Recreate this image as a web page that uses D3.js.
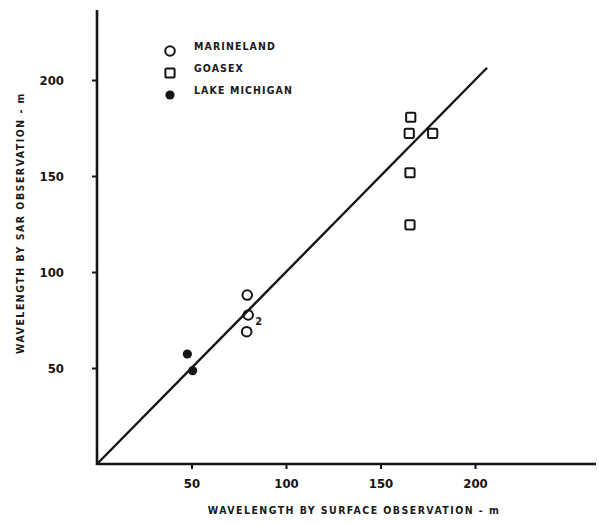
<!DOCTYPE html>
<html>
<head>
<meta charset="utf-8">
<script src="https://cdn.jsdelivr.net/npm/d3@7"></script>
<style>
  html, body { margin: 0; padding: 0; background: #fff; }
  svg { display: block; }
  text { font-family: "DejaVu Sans Condensed", "Liberation Sans Narrow", sans-serif; font-weight: bold; fill: #1a1a1a; }
</style>
</head>
<body>
<svg id="chart" width="599" height="524"></svg>
<script>
// Wave wavelength comparison: surface observation (x) vs SAR observation (y), metres
const xTicks = [50, 100, 150, 200];
const yTicks = [50, 100, 150, 200];

const marinelandX = [79.5, 80, 79.2];
const marinelandY = [88, 77.6, 68.9];
const marinelandCount = ["", "2", ""];

const goasexX = [166, 165.2, 177.6, 165.6, 165.6];
const goasexY = [180.6, 172.2, 172.2, 151.7, 124.5];

const michiganX = [47.8, 50.6];
const michiganY = [57.3, 48.6];

const legendLabels = ["MARINELAND", "GOASEX", "LAKE MICHIGAN"];
const fitLine = [0, 206];

const ink = "#151515";
const svg = d3.select("#chart");

const x = d3.scaleLinear().domain([0, 200]).range([97, 475]);
const y = d3.scaleLinear().domain([0, 200]).range([464, 80]);

// axis lines
svg.append("line").attr("x1", x(0)).attr("x2", 596).attr("y1", y(0)).attr("y2", y(0))
  .attr("stroke", ink).attr("stroke-width", 2.6);
svg.append("line").attr("x1", x(0)).attr("x2", x(0)).attr("y1", y(0) + 1).attr("y2", 10)
  .attr("stroke", ink).attr("stroke-width", 2.6);

// x axis ticks and labels
const xAxis = svg.append("g").attr("transform", `translate(0,${y(0)})`)
  .call(d3.axisBottom(x).tickValues(xTicks).tickSize(5).tickPadding(10).tickFormat(d3.format("d")));
xAxis.select(".domain").remove();
xAxis.attr("font-family", null);
xAxis.selectAll(".tick line").attr("stroke", ink).attr("stroke-width", 2);
xAxis.selectAll(".tick text").attr("font-size", 13).style("fill", ink);

// y axis ticks and labels
const yAxis = svg.append("g").attr("transform", `translate(${x(0)},0)`)
  .call(d3.axisLeft(y).tickValues(yTicks).tickSize(5).tickPadding(28).tickFormat(d3.format("d")));
yAxis.select(".domain").remove();
yAxis.attr("font-family", null);
yAxis.selectAll(".tick line").attr("stroke", ink).attr("stroke-width", 2);
yAxis.selectAll(".tick text").attr("font-size", 13).style("fill", ink);

// axis titles
svg.append("text").attr("x", 354).attr("y", 514).attr("text-anchor", "middle")
  .attr("font-size", 10.5).attr("letter-spacing", 1.45)
  .text("WAVELENGTH BY SURFACE OBSERVATION - m");
svg.append("text").attr("transform", `translate(24,223) rotate(-90)`).attr("text-anchor", "middle")
  .attr("font-size", 10.5).attr("letter-spacing", 1.5)
  .text("WAVELENGTH BY SAR OBSERVATION - m");

// one-to-one line
svg.append("line")
  .attr("x1", x(fitLine[0])).attr("y1", y(fitLine[0]))
  .attr("x2", x(fitLine[1])).attr("y2", y(fitLine[1]))
  .attr("stroke", ink).attr("stroke-width", 2.4).attr("stroke-linecap", "round");

// Marineland: open circles
svg.append("g").selectAll("circle").data(d3.range(marinelandX.length)).join("circle")
  .attr("cx", i => x(marinelandX[i])).attr("cy", i => y(marinelandY[i])).attr("r", 4.8)
  .attr("fill", "none").attr("stroke", ink).attr("stroke-width", 2);
svg.append("g").selectAll("text").data(d3.range(marinelandX.length)).join("text")
  .attr("x", i => x(marinelandX[i]) + 7).attr("y", i => y(marinelandY[i]) + 10)
  .attr("font-size", 11).text(i => marinelandCount[i]);

// GOASEX: open squares
svg.append("g").selectAll("rect").data(d3.range(goasexX.length)).join("rect")
  .attr("x", i => x(goasexX[i]) - 4.6).attr("y", i => y(goasexY[i]) - 4.6)
  .attr("width", 9.2).attr("height", 9.2).attr("rx", 1.2)
  .attr("fill", "none").attr("stroke", ink).attr("stroke-width", 2);

// Lake Michigan: filled circles
svg.append("g").selectAll("circle").data(d3.range(michiganX.length)).join("circle")
  .attr("cx", i => x(michiganX[i])).attr("cy", i => y(michiganY[i])).attr("r", 4.6)
  .attr("fill", ink);

// legend
const legend = svg.append("g");
const ly = [51, 73, 95];
legend.append("circle").attr("cx", 170).attr("cy", ly[0]).attr("r", 4.8)
  .attr("fill", "none").attr("stroke", ink).attr("stroke-width", 2);
legend.append("rect").attr("x", 165.4).attr("y", ly[1] - 4.6).attr("width", 9.2).attr("height", 9.2)
  .attr("rx", 1.2).attr("fill", "none").attr("stroke", ink).attr("stroke-width", 2);
legend.append("circle").attr("cx", 170).attr("cy", ly[2]).attr("r", 4.6).attr("fill", ink);
legend.selectAll("text").data(legendLabels).join("text")
  .attr("x", 194).attr("y", (d, i) => ly[i] - 1).attr("font-size", 10.5).attr("letter-spacing", 1.1)
  .text(d => d);
</script>
</body>
</html>
